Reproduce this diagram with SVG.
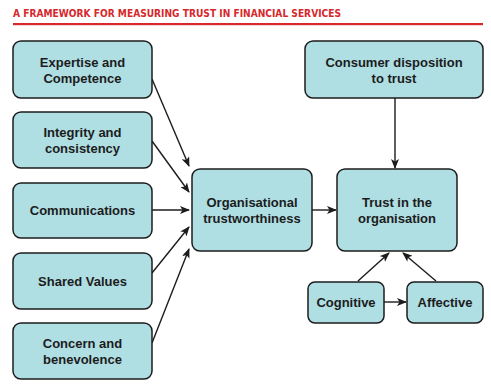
<svg xmlns="http://www.w3.org/2000/svg" width="491" height="386" viewBox="0 0 491 386">
<defs>
<style>
.box{fill:#afdee3;stroke:#1c1c1c;stroke-width:1.5}
.t{font-family:"Liberation Sans",Arial,sans-serif;font-weight:bold;font-size:13px;fill:#1c1c1c;text-anchor:middle}
.c{stroke:#1c1c1c;stroke-width:1.4;fill:none;marker-end:url(#ah)}
</style>
<marker id="ah" markerUnits="userSpaceOnUse" markerWidth="10" markerHeight="8" refX="9" refY="4" orient="auto">
<path d="M0,0 L10,4 L0,8 L2.5,4 Z" fill="#1c1c1c"/>
</marker>
</defs>
<rect width="491" height="386" fill="#ffffff"/>
<g id="title">
<text x="13" y="17" font-family="'DejaVu Sans Condensed','Liberation Sans',sans-serif" font-weight="bold" font-size="10.5" fill="#d6282d" textLength="328" lengthAdjust="spacingAndGlyphs">A FRAMEWORK FOR MEASURING TRUST IN FINANCIAL SERVICES</text>
<rect x="13" y="23" width="470" height="2.2" fill="#d6282d"/>
</g>
<g id="connectors">
<line class="c" x1="152" y1="79" x2="189" y2="166"/>
<line class="c" x1="152" y1="141" x2="189" y2="192"/>
<line class="c" x1="152" y1="210" x2="189" y2="210"/>
<line class="c" x1="152" y1="273" x2="189" y2="227"/>
<line class="c" x1="152" y1="343" x2="189" y2="249"/>
<line class="c" x1="312" y1="210" x2="336" y2="210"/>
<line class="c" x1="395" y1="98" x2="395" y2="168"/>
<line class="c" x1="358" y1="281" x2="389" y2="253"/>
<line class="c" x1="436" y1="281" x2="403" y2="253"/>
<line class="c" x1="384" y1="302" x2="406" y2="302"/>
</g>
<g id="expertise">
<rect class="box" x="13" y="41" width="139" height="57" rx="8"/>
<text class="t" x="82.5" y="66.5">Expertise and</text>
<text class="t" x="82.5" y="82.5">Competence</text>
</g>
<g id="integrity">
<rect class="box" x="13" y="112" width="139" height="56" rx="8"/>
<text class="t" x="82.5" y="137">Integrity and</text>
<text class="t" x="82.5" y="153">consistency</text>
</g>
<g id="communications">
<rect class="box" x="13" y="183" width="139" height="55" rx="8"/>
<text class="t" x="82.5" y="215">Communications</text>
</g>
<g id="shared-values">
<rect class="box" x="13" y="253" width="139" height="56" rx="8"/>
<text class="t" x="82.5" y="286">Shared Values</text>
</g>
<g id="concern">
<rect class="box" x="13" y="323" width="139" height="56" rx="8"/>
<text class="t" x="82.5" y="348">Concern and</text>
<text class="t" x="82.5" y="364">benevolence</text>
</g>
<g id="org-trustworthiness">
<rect class="box" x="192" y="169" width="120" height="82" rx="8"/>
<text class="t" x="252" y="207">Organisational</text>
<text class="t" x="252" y="223">trustworthiness</text>
</g>
<g id="consumer-disposition">
<rect class="box" x="305" y="41" width="178" height="57" rx="8"/>
<text class="t" x="394" y="66.5">Consumer disposition</text>
<text class="t" x="394" y="82.5">to trust</text>
</g>
<g id="trust-organisation">
<rect class="box" x="337" y="169" width="120" height="82" rx="8"/>
<text class="t" x="397" y="207">Trust in the</text>
<text class="t" x="397" y="223">organisation</text>
</g>
<g id="cognitive">
<rect class="box" x="308" y="282" width="76" height="41" rx="7"/>
<text class="t" x="346" y="307">Cognitive</text>
</g>
<g id="affective">
<rect class="box" x="407" y="282" width="76" height="41" rx="7"/>
<text class="t" x="445" y="307">Affective</text>
</g>
</svg>
